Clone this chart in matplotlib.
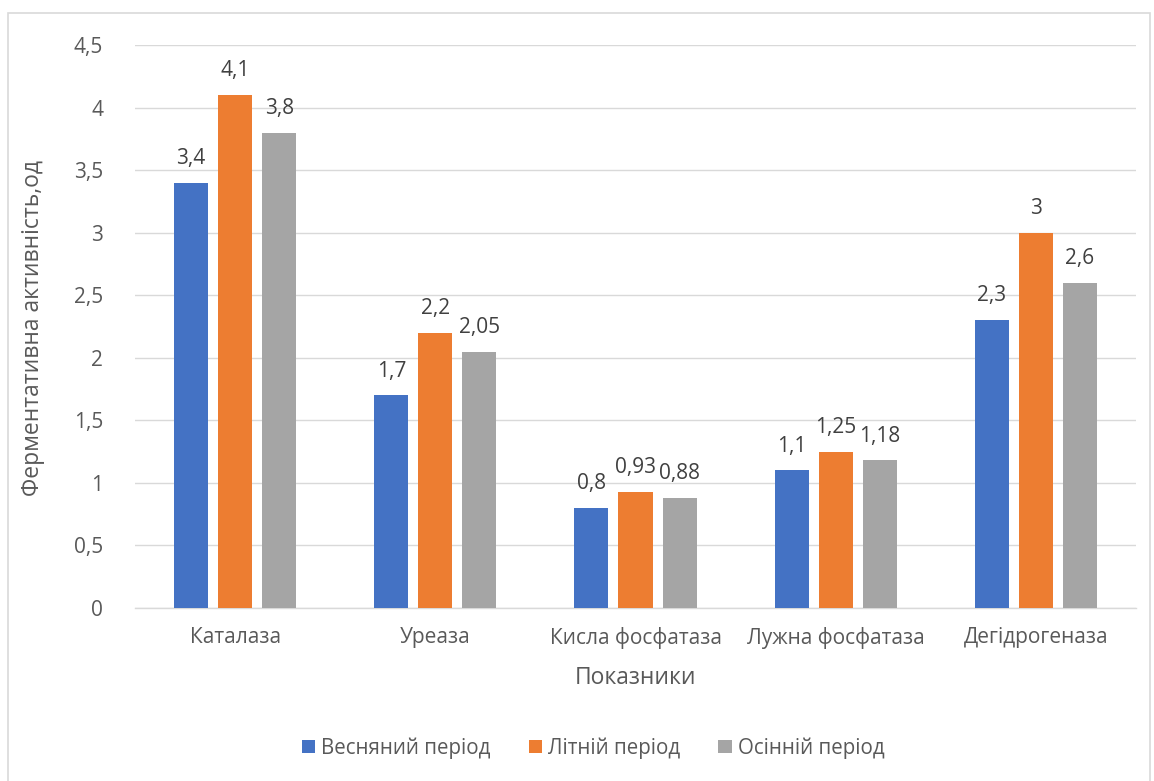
import matplotlib
matplotlib.use("Agg")
import matplotlib.pyplot as plt
from matplotlib.patches import Rectangle
import numpy as np

categories = ["Каталаза", "Уреаза", "Кисла фосфатаза", "Лужна фосфатаза", "Дегідрогеназа"]
series_names = ["Весняний період", "Літній період", "Осінній період"]
spring = [3.4, 1.7, 0.8, 1.1, 2.3]
summer = [4.1, 2.2, 0.93, 1.25, 3.0]
autumn = [3.8, 2.05, 0.88, 1.18, 2.6]
colors = ["#4472C4", "#ED7D31", "#A5A5A5"]
y_ticks = [0, 0.5, 1, 1.5, 2, 2.5, 3, 3.5, 4, 4.5]

plt.rcParams["font.family"] = ["Open Sans", "DejaVu Sans"]
text_color = "#595959"

fig = plt.figure(figsize=(11.54, 7.81), dpi=100)
fig.patches.append(Rectangle((8 / 1154, -0.01), 1142 / 1154, 1 - 13 / 781 + 0.01,
                             transform=fig.transFigure, fill=False,
                             edgecolor="#D9D9D9", linewidth=1.2))
ax = fig.add_axes([135 / 1154, 1 - 608 / 781, 1001 / 1154, 563 / 781])

x = np.arange(len(categories))
width = 0.17
offset = 0.22

def fmt(v):
    return ("%g" % v).replace(".", ",")

for i, (vals, name, col) in enumerate(zip([spring, summer, autumn], series_names, colors)):
    bars = ax.bar(x + (i - 1) * offset, vals, width, color=col, label=name, zorder=3)
    for b, v in zip(bars, vals):
        ax.text(b.get_x() + b.get_width() / 2, v + 0.11, fmt(v), ha="center", va="bottom",
                fontsize=15, color="#404040")

ax.set_xlim(-0.5, len(categories) - 0.5)
ax.set_ylim(0, 4.5)
ax.set_yticks(y_ticks)
ax.set_yticklabels([fmt(t) for t in y_ticks], fontsize=15, color=text_color)
ax.set_xticks(x)
ax.set_xticklabels(categories, fontsize=15, color=text_color)
ax.tick_params(axis="x", length=0, pad=14)
ax.tick_params(axis="y", length=0, pad=23)
ax.grid(axis="y", color="#D9D9D9", linewidth=1, zorder=0)
for s in ["top", "right", "left"]:
    ax.spines[s].set_visible(False)
ax.spines["bottom"].set_color("#D9D9D9")
ax.spines["bottom"].set_linewidth(1)

ax.set_xlabel("Показники", fontsize=16.5, color=text_color, labelpad=12)
fig.text(33 / 1154, 1 - 328 / 781, "Ферментативна активність,од", rotation=90,
         ha="center", va="center", fontsize=16.5, color=text_color)

fig.legend(loc="center", bbox_to_anchor=(593 / 1154, 1 - 748 / 781), ncol=3, frameon=False,
           fontsize=14.8, handlelength=0.65, handleheight=0.65, handletextpad=0.3,
           columnspacing=1.85, labelcolor=text_color)

fig.savefig("out.png", dpi=100)
